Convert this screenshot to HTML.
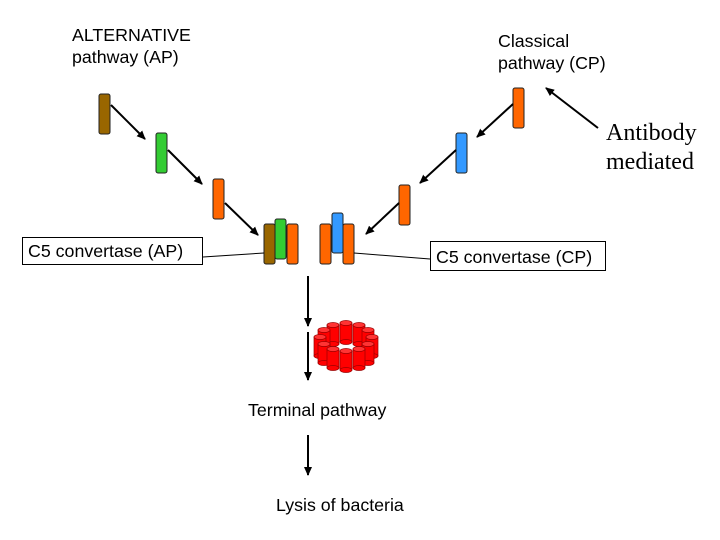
<!DOCTYPE html>
<html><head><style>
html,body{margin:0;padding:0;background:#fff;}
svg{display:block;}
text{font-family:"Liberation Sans",sans-serif;font-size:17.8px;fill:#000;}
</style></head><body>
<svg width="720" height="540" viewBox="0 0 720 540" xmlns="http://www.w3.org/2000/svg">
<defs>
<marker id="a" markerWidth="10" markerHeight="10" refX="8" refY="5" orient="auto" markerUnits="userSpaceOnUse">
<path d="M0,1 L9,5 L0,9 Z" fill="#000"/></marker>
<g id="cyl"><rect x="-6" y="0" width="12" height="19" fill="#f00" stroke="#900" stroke-width="0.7"/><ellipse cx="0" cy="19" rx="6" ry="2.5" fill="#f00" stroke="#900" stroke-width="0.7"/><ellipse cx="0" cy="0" rx="6" ry="2.5" fill="#f33" stroke="#900" stroke-width="0.7"/></g>
</defs>
<text x="72" y="41">ALTERNATIVE</text>
<text x="72" y="63">pathway (AP)</text>
<text x="498" y="47">Classical</text>
<text x="498" y="69">pathway (CP)</text>
<text x="606" y="140" style="font-family:'Liberation Serif',serif;font-size:24px">Antibody</text>
<text x="606" y="169" style="font-family:'Liberation Serif',serif;font-size:24px">mediated</text>
<g stroke="#222" stroke-width="1">
<rect x="99" y="94" width="11" height="40" rx="2" fill="#996600"/>
<rect x="156" y="133" width="11" height="40" rx="2" fill="#33cc33"/>
<rect x="213" y="179" width="11" height="40" rx="2" fill="#ff6600"/>
<rect x="264" y="224" width="11" height="40" rx="2" fill="#996600"/>
<rect x="275" y="219" width="11" height="40" rx="2" fill="#33cc33"/>
<rect x="287" y="224" width="11" height="40" rx="2" fill="#ff6600"/>
<rect x="320" y="224" width="11" height="40" rx="2" fill="#ff6600"/>
<rect x="343" y="224" width="11" height="40" rx="2" fill="#ff6600"/>
<rect x="332" y="213" width="11" height="40" rx="2" fill="#3399ff"/>
<rect x="513" y="88" width="11" height="40" rx="2" fill="#ff6600"/>
<rect x="456" y="133" width="11" height="40" rx="2" fill="#3399ff"/>
<rect x="399" y="185" width="11" height="40" rx="2" fill="#ff6600"/>
</g>
<g stroke="#000" stroke-width="2" marker-end="url(#a)">
<line x1="111" y1="105" x2="145" y2="139"/>
<line x1="168" y1="150" x2="202" y2="184"/>
<line x1="225" y1="203" x2="258" y2="235"/>
<line x1="513" y1="104" x2="477" y2="137"/>
<line x1="456" y1="150" x2="420" y2="183"/>
<line x1="399" y1="203" x2="366" y2="234"/>
<line x1="598" y1="128" x2="546" y2="88"/>
<line x1="308" y1="276" x2="308" y2="326"/>
<line x1="308" y1="332" x2="308" y2="380"/>
<line x1="308" y1="435" x2="308" y2="475"/>
</g>
<g stroke="#000" stroke-width="1" fill="#fff">
<rect x="22.5" y="237.5" width="180" height="27"/>
<rect x="430.5" y="241.5" width="175" height="29"/>
<line x1="203" y1="257" x2="264" y2="253"/>
<line x1="354" y1="253" x2="430" y2="259"/>
</g>
<text x="28" y="257">C5 convertase (AP)</text>
<text x="436" y="263">C5 convertase (CP)</text>
<text x="248" y="416">Terminal pathway</text>
<text x="276" y="511">Lysis of bacteria</text>
<use href="#cyl" x="346" y="323"/>
<use href="#cyl" x="333" y="325"/><use href="#cyl" x="359" y="325"/>
<use href="#cyl" x="324" y="330"/><use href="#cyl" x="368" y="330"/>
<use href="#cyl" x="320" y="337"/><use href="#cyl" x="372" y="337"/>
<use href="#cyl" x="324" y="344"/><use href="#cyl" x="368" y="344"/>
<use href="#cyl" x="333" y="349"/><use href="#cyl" x="359" y="349"/>
<use href="#cyl" x="346" y="351"/>
</svg>
</body></html>
